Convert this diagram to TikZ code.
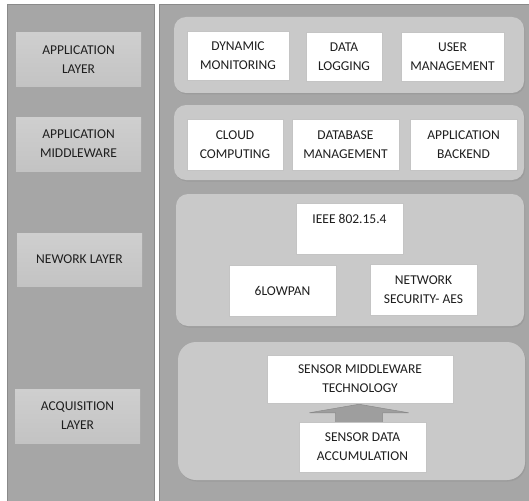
\documentclass[tikz,border=0pt]{standalone}
\usepackage{fontspec}
\setmainfont{Carlito}
\usetikzlibrary{calc,shadows}

\definecolor{panelgray}{HTML}{A6A6A6}
\definecolor{paneledge}{HTML}{8A8A8A}
\definecolor{bandgray}{HTML}{C9C9C9}
\definecolor{tagtop}{HTML}{CFCFCF}
\definecolor{tagbot}{HTML}{C3C3C3}
\definecolor{boxedge}{HTML}{C4C4C4}
\definecolor{inkgray}{HTML}{1E1E1E}

\tikzset{
  panel/.style={fill=panelgray,draw=paneledge,line width=.8pt},
  band/.style={fill=bandgray,draw=none,rounded corners=12pt,
    drop shadow={shadow xshift=1pt,shadow yshift=-1.5pt,opacity=.25}},
  tag/.style={top color=tagtop,bottom color=tagbot,draw=none,align=center,
    text=inkgray,font=\fontsize{13.5}{19}\selectfont},
  wbox/.style={fill=white,draw=boxedge,line width=.5pt,align=center,
    text=inkgray,font=\fontsize{13.5}{19}\selectfont,inner sep=2pt},
  uparrow/.style={fill=panelgray!95!black,draw=paneledge,line width=.5pt}
}

\begin{document}
\begin{tikzpicture}[x=1pt,y=-1pt]
\useasboundingbox (0,0) rectangle (529,500);
\fill[white] (0,0) rectangle (529,500);
% two panels
\draw[panel] (7,4) rectangle (154,510);
\draw[panel] (159,4) rectangle (535,510);
% layer names
\node[tag,minimum width=125pt,minimum height=54pt] (appl) at (78.5,60) {APPLICATION\\LAYER};
\node[tag,minimum width=125pt,minimum height=54pt] (appm) at (78.5,144) {APPLICATION\\MIDDLEWARE};
\node[tag,minimum width=125pt,minimum height=53pt] (netl) at (79.5,259.5) {NEWORK LAYER};
\node[tag,minimum width=125pt,minimum height=54pt] (acql) at (77.5,416) {ACQUISITION\\LAYER};
% bands
\draw[band] (174,17) rectangle (524,93);
\draw[band] (174,105) rectangle (524,180);
\draw[band] (176,194) rectangle (524,326);
\draw[band,rounded corners=18pt] (178,342) rectangle (525,480);
% application layer
\node[wbox,minimum width=102pt,minimum height=49pt] (dyn) at (238,55.5) {DYNAMIC\\MONITORING};
\node[wbox,minimum width=76pt,minimum height=49pt] (log) at (344,56.5) {DATA\\LOGGING};
\node[wbox,minimum width=103pt,minimum height=49pt] (usr) at (452.5,56.5) {USER\\MANAGEMENT};
% application middleware
\node[wbox,minimum width=96pt,minimum height=51pt] (cld) at (235,144.5) {CLOUD\\COMPUTING};
\node[wbox,minimum width=107pt,minimum height=51pt] (dbm) at (345.5,144.5) {DATABASE\\MANAGEMENT};
\node[wbox,minimum width=107pt,minimum height=51pt] (bck) at (463.5,144.5) {APPLICATION\\BACKEND};
% network layer
\node[wbox,minimum width=107pt,minimum height=51pt] (ieee) at (349.5,228.5) {IEEE 802.15.4\\~};
\node[wbox,minimum width=107pt,minimum height=51pt] (lowpan) at (282.5,290.5) {6LOWPAN};
\node[wbox,minimum width=107pt,minimum height=51pt] (sec) at (423.5,289.5) {NETWORK\\SECURITY- AES};
% acquisition layer
\node[wbox,minimum width=186pt,minimum height=48pt] (smw) at (360,379) {SENSOR MIDDLEWARE\\TECHNOLOGY};
\node[wbox,minimum width=127pt,minimum height=50pt] (acc) at (362.5,447) {SENSOR DATA\\ACCUMULATION};
\draw[uparrow] ($(acc.north)+(-27,0)$) -- ++(0,-9) -- ++(-26,0)
  -- ($(smw.south)+(-1,1)$) -- ($(acc.north)+(46,-9)$) -- ++(-26,0)
  -- ($(acc.north)+(20,0)$);
\end{tikzpicture}
\end{document}
